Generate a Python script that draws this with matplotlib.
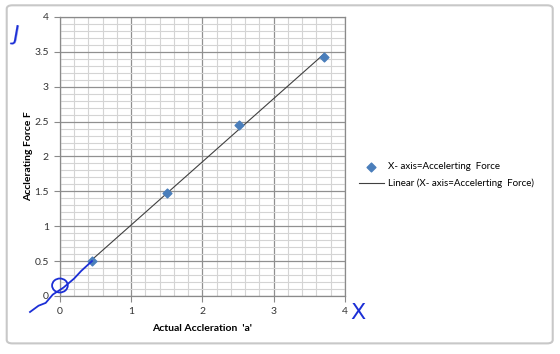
import matplotlib
matplotlib.use("Agg")
import matplotlib.pyplot as plt
import numpy as np
from matplotlib.patches import FancyBboxPatch, Ellipse
from matplotlib.ticker import MultipleLocator

plt.rcParams['font.family'] = ['Lato', 'DejaVu Sans']

series_name = "X- axis=Accelerting  Force"
trend_name = "Linear (X- axis=Accelerting  Force)"
accel = [0.45, 1.5, 2.52, 3.7]
force = [0.5, 1.47, 2.45, 3.43]
xlabel = "Actual Accleration  'a'"
ylabel = "Acclerating Force F"
xticks = [0, 1, 2, 3, 4]
yticks = [0, 0.5, 1, 1.5, 2, 2.5, 3, 3.5, 4]
ytick_labels = ["0", "0.5", "1", "1.5", "2", "2.5", "3", "3.5", "4"]

fig = plt.figure(figsize=(5.6, 3.54), dpi=100)
fig.patch.set_facecolor('white')

# chart frame
frame = FancyBboxPatch((0.012, 0.03), 0.975, 0.955, boxstyle="round,pad=0,rounding_size=0.01",
                       transform=fig.transFigure, fill=False, edgecolor='#c8c8c8', linewidth=1.5)
fig.patches.append(frame)

ax = fig.add_axes([0.107, 0.164, 0.509, 0.788])
ax.set_xlim(0, 4)
ax.set_ylim(0, 4)
ax.xaxis.set_major_locator(MultipleLocator(1))
ax.xaxis.set_minor_locator(MultipleLocator(0.2))
ax.yaxis.set_major_locator(MultipleLocator(0.5))
ax.yaxis.set_minor_locator(MultipleLocator(0.1))
ax.set_yticks(yticks)
ax.set_yticklabels(ytick_labels)
ax.set_xticks(xticks)
ax.grid(which='minor', color='#d4d4d4', linewidth=0.8)
ax.grid(which='major', color='#909090', linewidth=0.9)
ax.set_axisbelow(True)
for s in ax.spines.values():
    s.set_color('#8a8a8a')
    s.set_linewidth(0.9)
ax.tick_params(which='major', axis='both', length=4, color='#8a8a8a', direction='out',
               labelsize=7.5, labelcolor='#333333', pad=4)
ax.tick_params(which='minor', length=0)

ax.set_xlabel(xlabel, fontsize=7.5, fontweight='bold', labelpad=6)
ax.set_ylabel(ylabel, fontsize=7.5, fontweight='bold', labelpad=1)

sc = ax.scatter(accel, force, marker='D', s=20, color='#4a7ebb', zorder=4, label=series_name)
coef = np.polyfit(accel, force, 1)
xs = np.array([min(accel), max(accel)])
ln, = ax.plot(xs, np.polyval(coef, xs), color='#404040', linewidth=0.8, zorder=3, label=trend_name)

fig.legend(handles=[sc, ln], labels=[series_name, trend_name], loc='center left',
           bbox_to_anchor=(0.625, 0.505), frameon=False, fontsize=7, handlelength=2.6,
           handletextpad=0.4, labelspacing=0.8)

# hand-drawn annotations
blue = '#1c2fd6'
ax.plot([-0.42, -0.3, -0.2, -0.1, 0.05, 0.2, 0.3, 0.45], [-0.23, -0.14, -0.1, 0.02, 0.12, 0.25, 0.36, 0.5],
        color=blue, linewidth=1.3, clip_on=False, zorder=5)
ax.add_patch(Ellipse((0.0, 0.15), 0.22, 0.2, fill=False, edgecolor=blue, linewidth=1.3, clip_on=False, zorder=5))
fig.text(0.018, 0.885, "J", color=blue, fontsize=16, family='DejaVu Sans', rotation=-10)
fig.text(0.625, 0.10, "X", color=blue, fontsize=16, family='DejaVu Sans')

fig.savefig("out.png", dpi=100)
